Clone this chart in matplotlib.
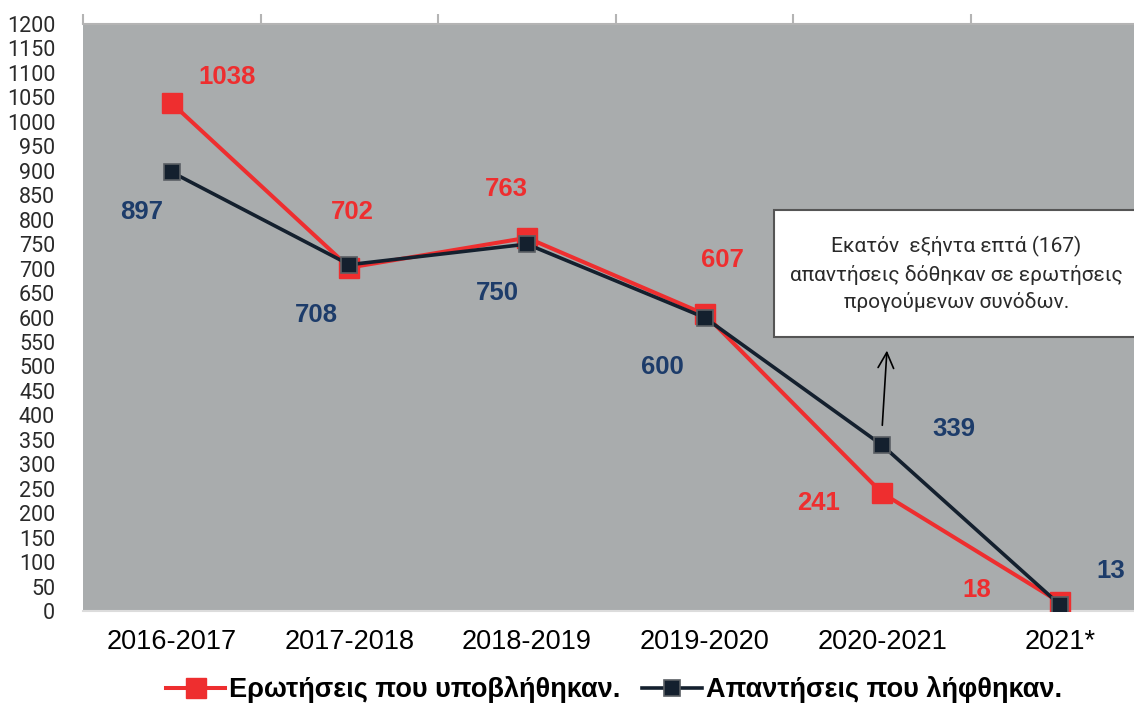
import matplotlib
matplotlib.use('Agg')
import matplotlib.pyplot as plt
from matplotlib.patches import Rectangle

# data
periods = ['2016-2017', '2017-2018', '2018-2019', '2019-2020', '2020-2021', '2021*']
questions = [1038, 702, 763, 607, 241, 18]
answers = [897, 708, 750, 600, 339, 13]
label_q = 'Ερωτήσεις που υποβλήθηκαν.'
label_a = 'Απαντήσεις που λήφθηκαν.'
note = 'Εκατόν  εξήντα επτά (167)\nαπαντήσεις δόθηκαν σε ερωτήσεις\nπρογούμενων συνόδων.'

# label offsets (points) relative to each marker
q_off = [(40, 19), (2, 40), (-15, 35), (13, 39), (-46, -7), (-60, 9)]
a_off = [(-22, -29), (-24, -36), (-21, -35), (-30, -36), (52, 12), (37, 24)]

RED = '#ee2e2f'
NAVY = '#14202e'
NAVY_TXT = '#1d3c6a'
BG = '#a9acad'

fig = plt.figure(figsize=(11.34, 7.06), dpi=100)
ax = fig.add_axes([83 / 1134, 95 / 706, 1065.5 / 1134, 587 / 706])
ax.set_facecolor(BG)

x = list(range(len(periods)))
ax.plot(x, questions, color=RED, lw=2.9, marker='s', ms=14, mfc=RED, mec=RED,
        label=label_q, zorder=3)
ax.plot(x, answers, color=NAVY, lw=2.6, marker='s', ms=11.5, mfc=NAVY, mec='#5a5f64',
        mew=1.2, label=label_a, zorder=4)

for xi, v, off in zip(x, questions, q_off):
    ax.annotate(str(v), (xi, v), xytext=off, textcoords='offset points',
                ha='center', va='center', color=RED, fontsize=18.5,
                fontweight='bold', family='Liberation Sans')
for xi, v, off in zip(x, answers, a_off):
    ax.annotate(str(v), (xi, v), xytext=off, textcoords='offset points',
                ha='center', va='center', color=NAVY_TXT, fontsize=18.5,
                fontweight='bold', family='Liberation Sans')

# note box + arrow
ax.add_patch(Rectangle((3.393, 560), 2.3, 260, facecolor='white',
                       edgecolor='#555555', lw=1.5, zorder=5))
ax.text(4.418, 689, note, ha='center', va='center', fontsize=15,
        family='Roboto', color='#2a2a2a', linespacing=1.45, zorder=6)
ax.annotate('', xy=(4.028, 538), xytext=(4.0, 374),
            arrowprops=dict(arrowstyle='->', color='black', lw=1.2,
                            mutation_scale=28), zorder=6)

ax.set_xlim(-0.5, 5.5)
ax.set_ylim(0, 1200)
ax.set_yticks(range(0, 1201, 50))
ax.set_xticks(x)
ax.set_xticklabels(periods, fontsize=19.5, family='Liberation Sans')
ax.set_xticks([i - 0.5 for i in range(len(periods) + 1)], minor=True)
ax.tick_params(axis='x', which='major', length=0, pad=13)
ax.tick_params(axis='x', which='minor', bottom=False, top=True, length=7,
               width=1.5, color='#b4b4b4')
ax.tick_params(axis='y', length=0, pad=20, labelsize=15.5)
for lab in ax.get_yticklabels():
    lab.set_family('Roboto')
    lab.set_color('#2a2a2a')

for s in ['left', 'right']:
    ax.spines[s].set_visible(False)
ax.spines['top'].set_color('#b4b4b4')
ax.spines['top'].set_linewidth(1.5)
ax.spines['bottom'].set_color('#dcdcdc')
ax.spines['bottom'].set_linewidth(1.5)

fig.legend(loc='center', bbox_to_anchor=(0.5414, 0.0227), ncol=2, frameon=False,
           handlelength=2.2, handletextpad=0.15, columnspacing=0.8,
           prop={'family': 'Liberation Sans', 'weight': 'bold', 'size': 19.5})

fig.savefig('out.png', dpi=100)
